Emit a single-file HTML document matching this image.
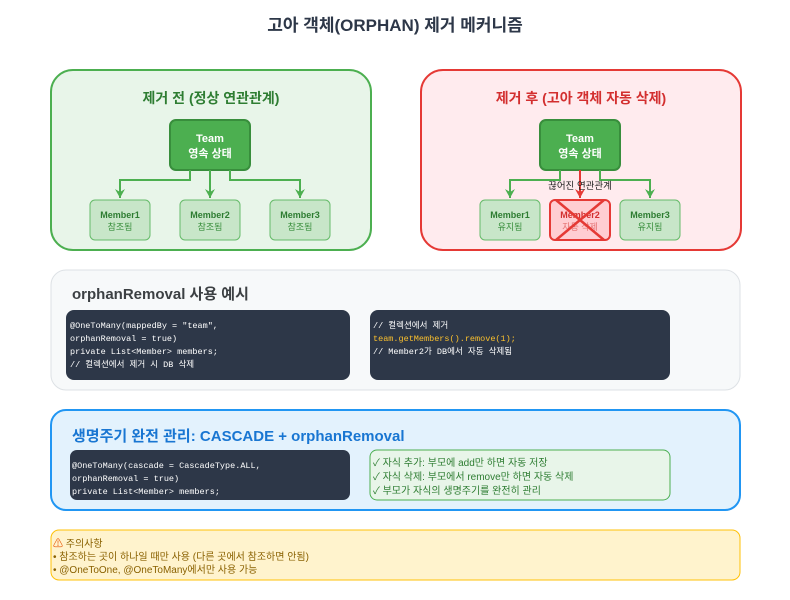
<!DOCTYPE html>
<html><head><meta charset="utf-8"><style>
html,body{margin:0;padding:0;background:#fff;}
svg{display:block;}
text{font-family:"Liberation Sans","Noto Sans CJK KR",sans-serif;}
.m{font-family:"Liberation Mono","Noto Sans CJK KR",monospace;font-size:8.5px;fill:#fff;}
</style></head><body>
<svg width="790" height="600" viewBox="0 0 790 600" xmlns="http://www.w3.org/2000/svg">
<defs>
<marker id="ag" markerWidth="12" markerHeight="12" refX="9" refY="5" orient="auto" markerUnits="userSpaceOnUse"><path d="M0,0 L9,5 L0,10 L3,5 Z" fill="#4caf50"/></marker>
<marker id="ar" markerWidth="12" markerHeight="12" refX="9" refY="5" orient="auto" markerUnits="userSpaceOnUse"><path d="M0,0 L9,5 L0,10 L3,5 Z" fill="#e53935"/></marker>
</defs>
<text x="395" y="31" text-anchor="middle" font-size="17" font-weight="bold" fill="#2d3748">고아 객체(ORPHAN) 제거 메커니즘</text>

<rect x="51" y="70" width="320" height="180" rx="22" fill="#e8f5e9" stroke="#4caf50" stroke-width="2"/>
<text x="211" y="103" text-anchor="middle" font-size="14" font-weight="bold" fill="#2e7d32">제거 전 (정상 연관관계)</text>
<rect x="170" y="120" width="80" height="50" rx="6" fill="#4caf50" stroke="#388e3c" stroke-width="2"/>
<text x="210" y="142" text-anchor="middle" font-size="11" font-weight="bold" fill="#fff">Team</text>
<text x="210" y="157" text-anchor="middle" font-size="11" font-weight="bold" fill="#fff">영속 상태</text>
<g fill="none" stroke="#4caf50" stroke-width="2">
<path d="M190 170 V180 H120 V198" marker-end="url(#ag)"/>
<path d="M210 170 V198" marker-end="url(#ag)"/>
<path d="M230 170 V180 H300 V198" marker-end="url(#ag)"/>
</g>
<g font-size="9" text-anchor="middle">
<rect x="90" y="200" width="60" height="40" rx="5" fill="#c8e6c9" stroke="#66bb6a"/>
<text x="120" y="218" font-weight="bold" fill="#2e7d32">Member1</text><text x="120" y="230" fill="#388e3c">참조됨</text>
<rect x="180" y="200" width="60" height="40" rx="5" fill="#c8e6c9" stroke="#66bb6a"/>
<text x="210" y="218" font-weight="bold" fill="#2e7d32">Member2</text><text x="210" y="230" fill="#388e3c">참조됨</text>
<rect x="270" y="200" width="60" height="40" rx="5" fill="#c8e6c9" stroke="#66bb6a"/>
<text x="300" y="218" font-weight="bold" fill="#2e7d32">Member3</text><text x="300" y="230" fill="#388e3c">참조됨</text>
</g>

<rect x="421" y="70" width="320" height="180" rx="22" fill="#ffebee" stroke="#e53935" stroke-width="2"/>
<text x="581" y="103" text-anchor="middle" font-size="14" font-weight="bold" fill="#d32f2f">제거 후 (고아 객체 자동 삭제)</text>
<rect x="540" y="120" width="80" height="50" rx="6" fill="#4caf50" stroke="#388e3c" stroke-width="2"/>
<text x="580" y="142" text-anchor="middle" font-size="11" font-weight="bold" fill="#fff">Team</text>
<text x="580" y="157" text-anchor="middle" font-size="11" font-weight="bold" fill="#fff">영속 상태</text>
<g fill="none" stroke-width="2">
<path d="M560 170 V180 H510 V198" stroke="#4caf50" marker-end="url(#ag)"/>
<path d="M600 170 V180 H650 V198" stroke="#4caf50" marker-end="url(#ag)"/>
<path d="M580 170 V198" stroke="#e53935" marker-end="url(#ar)"/>
</g>
<text x="580" y="189" text-anchor="middle" font-size="9.5" fill="#222">끊어진 연관관계</text>
<g font-size="9" text-anchor="middle">
<rect x="480" y="200" width="60" height="40" rx="5" fill="#c8e6c9" stroke="#66bb6a"/>
<text x="510" y="218" font-weight="bold" fill="#2e7d32">Member1</text><text x="510" y="230" fill="#388e3c">유지됨</text>
<rect x="550" y="200" width="60" height="40" rx="5" fill="#ffcdd2" stroke="#e53935" stroke-width="2"/>
<text x="580" y="218" font-weight="bold" fill="#d32f2f">Member2</text><text x="580" y="230" fill="#e57373">자동 삭제</text>
<rect x="620" y="200" width="60" height="40" rx="5" fill="#c8e6c9" stroke="#66bb6a"/>
<text x="650" y="218" font-weight="bold" fill="#2e7d32">Member3</text><text x="650" y="230" fill="#388e3c">유지됨</text>
</g>
<path d="M556 200 L604 240 M604 200 L556 240" stroke="#e53935" stroke-width="2.5"/>

<rect x="51" y="270" width="689" height="120" rx="15" fill="#f7f9fa" stroke="#dde1e5"/>
<text x="72" y="299" font-size="15" font-weight="bold" fill="#3c4043">orphanRemoval 사용 예시</text>
<rect x="66" y="310" width="284" height="70" rx="8" fill="#2d3748"/>
<text class="m" x="70" y="328">@OneToMany(mappedBy = "team",</text>
<text class="m" x="70" y="341">orphanRemoval = true)</text>
<text class="m" x="70" y="354">private List&lt;Member&gt; members;</text>
<text class="m" x="70" y="367">// 컬렉션에서 제거 시 DB 삭제</text>
<rect x="370" y="310" width="300" height="70" rx="8" fill="#2d3748"/>
<text class="m" x="373" y="328">// 컬렉션에서 제거</text>
<text class="m" x="373" y="341" style="fill:#fbc02d">team.getMembers().remove(1);</text>
<text class="m" x="373" y="354">// Member2가 DB에서 자동 삭제됨</text>

<rect x="51" y="410" width="689" height="100" rx="15" fill="#e3f2fd" stroke="#2196f3" stroke-width="2"/>
<text x="72" y="441" font-size="15" font-weight="bold" fill="#1976d2">생명주기 완전 관리: CASCADE + orphanRemoval</text>
<rect x="70" y="450" width="280" height="50" rx="7" fill="#2d3748"/>
<text class="m" x="72" y="468">@OneToMany(cascade = CascadeType.ALL,</text>
<text class="m" x="72" y="481">orphanRemoval = true)</text>
<text class="m" x="72" y="494">private List&lt;Member&gt; members;</text>
<rect x="370" y="450" width="300" height="50" rx="7" fill="#e8f5e9" stroke="#4caf50"/>
<g font-size="10" fill="#2e7d32">
<text x="373" y="466">✓ 자식 추가: 부모에 add만 하면 자동 저장</text>
<text x="373" y="480">✓ 자식 삭제: 부모에서 remove만 하면 자동 삭제</text>
<text x="373" y="494">✓ 부모가 자식의 생명주기를 완전히 관리</text>
</g>

<rect x="51" y="530" width="689" height="50" rx="8" fill="#fff3cd" stroke="#ffc107"/>
<g font-size="10" fill="#8a6100">
<text x="53" y="547"><tspan fill="#e65100">⚠</tspan> 주의사항</text>
<text x="53" y="560">• 참조하는 곳이 하나일 때만 사용 (다른 곳에서 참조하면 안됨)</text>
<text x="53" y="573">• @OneToOne, @OneToMany에서만 사용 가능</text>
</g>
</svg>
</body></html>
